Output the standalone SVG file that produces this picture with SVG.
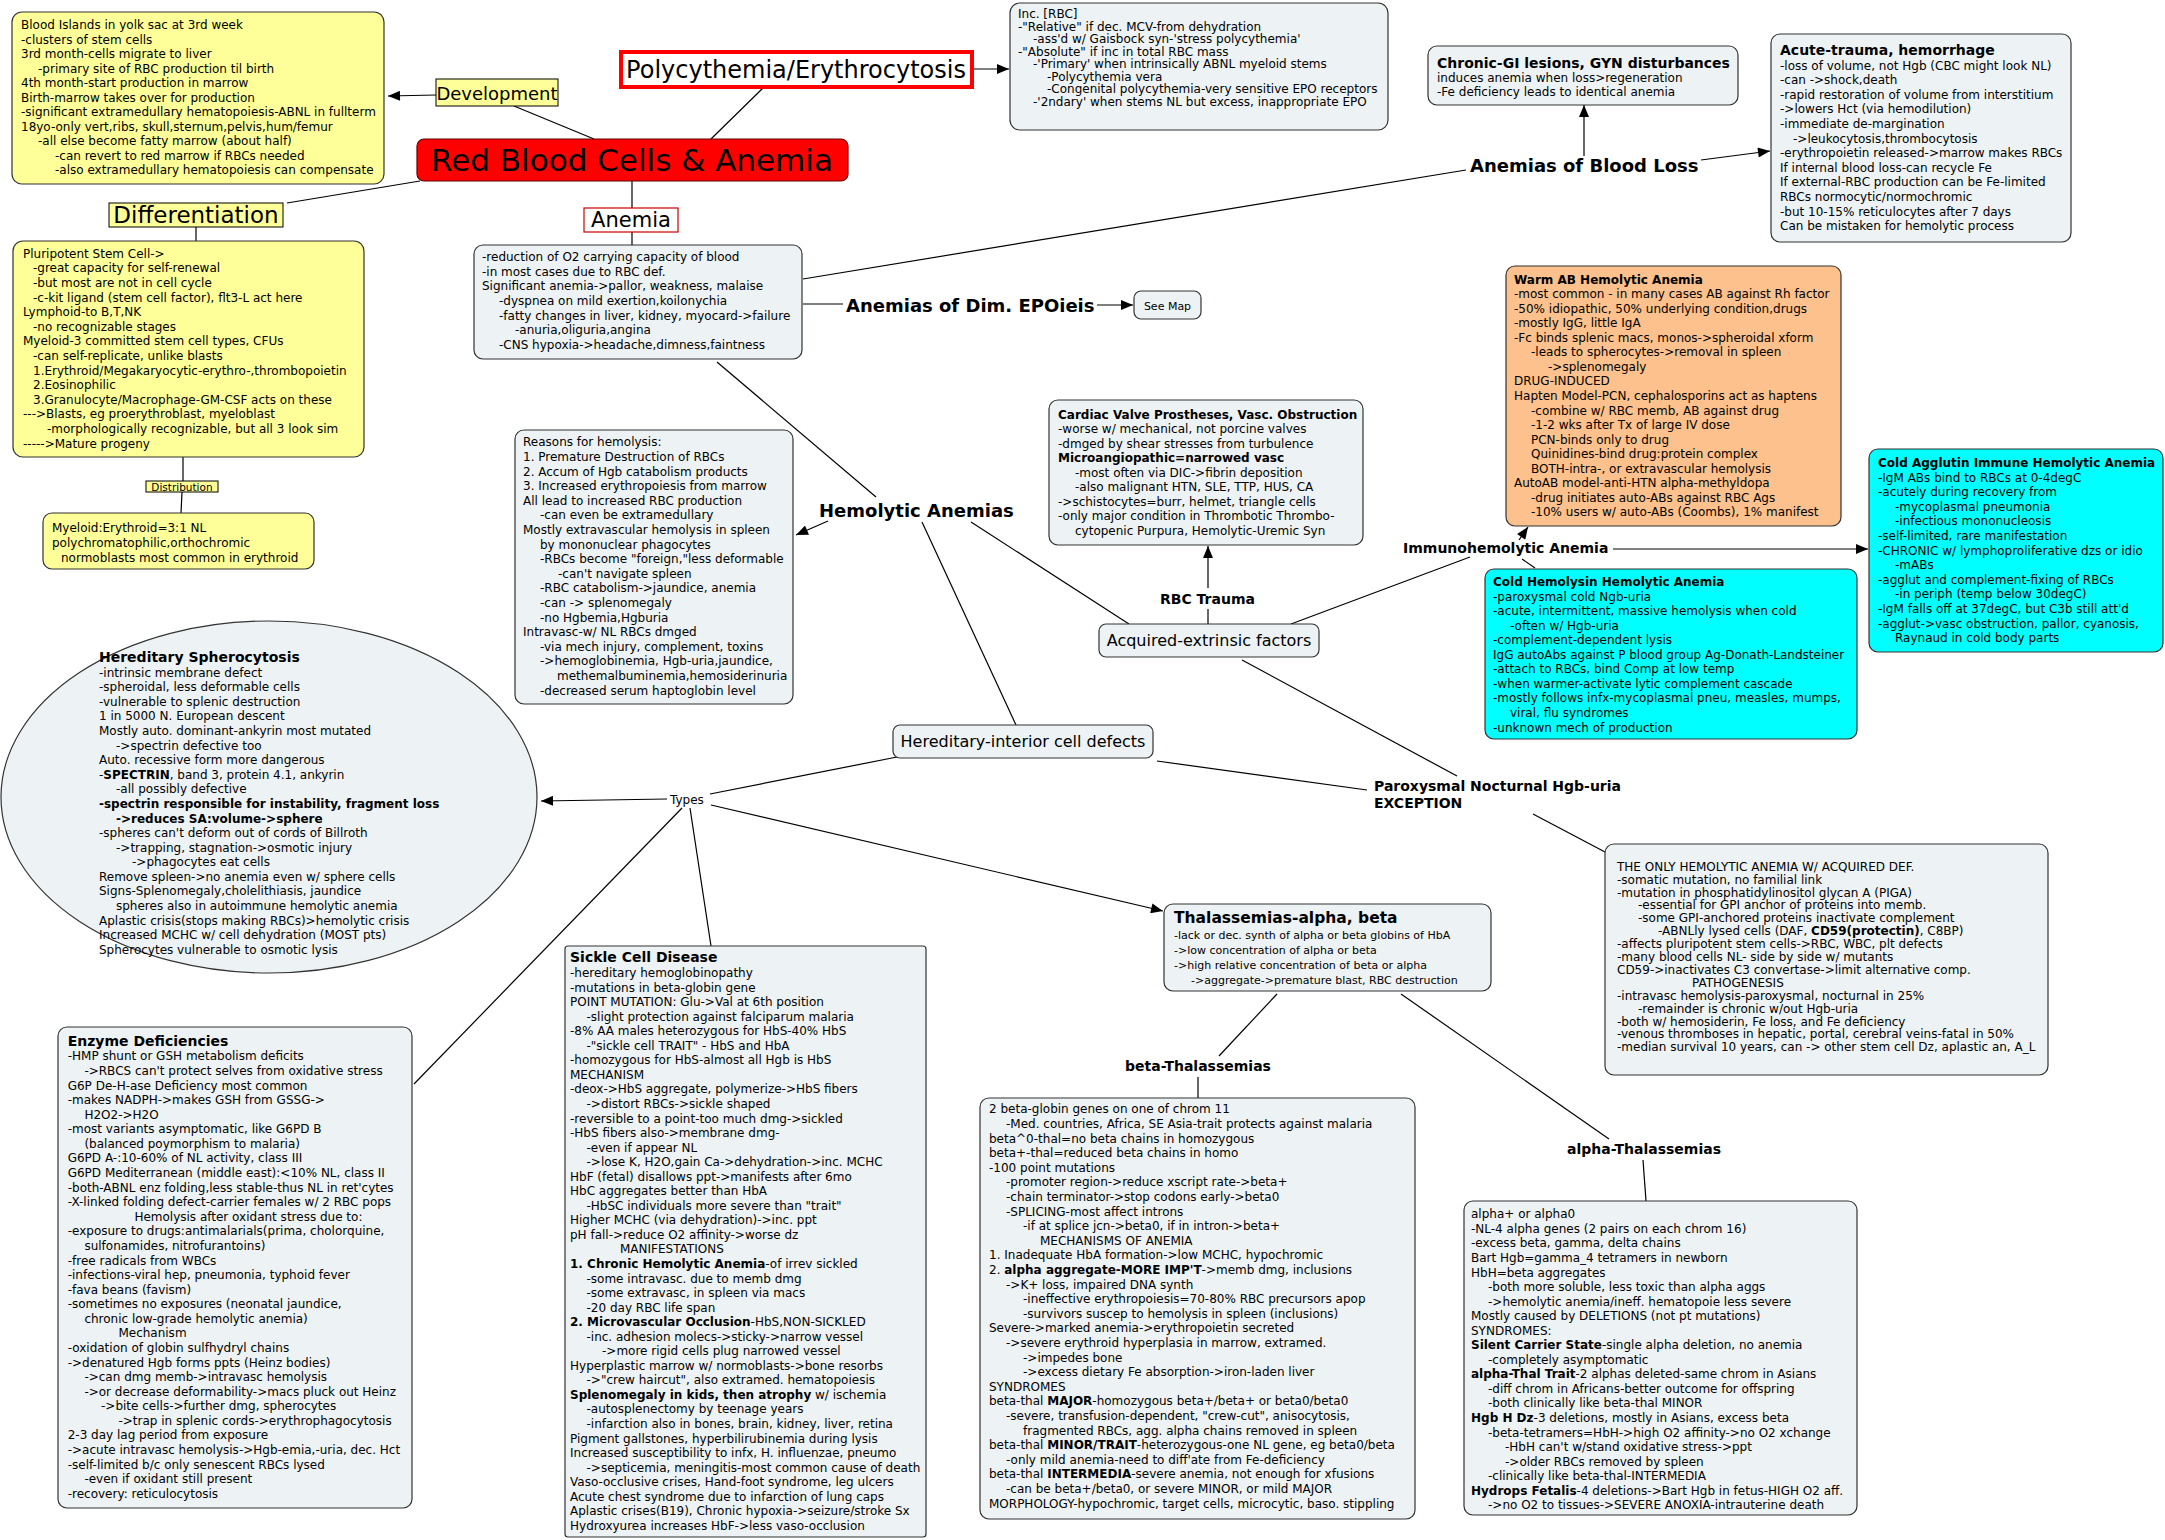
<svg xmlns="http://www.w3.org/2000/svg" width="2165" height="1540" viewBox="0 0 2165 1540">
<defs>
<marker id="ah" viewBox="0 0 12 10" refX="12" refY="5" markerWidth="13" markerHeight="10" orient="auto" markerUnits="userSpaceOnUse"><path d="M0,0 L12,5 L0,10 z" fill="#000"/></marker>
<style>
.v{font-family:"DejaVu Sans",Verdana,sans-serif;font-size:12px;fill:#000}
.t{font-family:"DejaVu Sans",Tahoma,sans-serif;font-size:12px;fill:#000}
.b{font-weight:bold}
.lab{font-family:"DejaVu Sans",Verdana,sans-serif;font-weight:bold;fill:#000}
.box{fill:#edf3f4;stroke:#333;stroke-width:1.2}
.yel{fill:#ffff99;stroke:#333;stroke-width:1.2}
.org{fill:#fcc18c;stroke:#333;stroke-width:1.2}
.cy{fill:#00ffff;stroke:#333;stroke-width:1.2}
.tag{fill:#ffff99;stroke:#000;stroke-width:1}
</style>
</defs>
<rect width="2165" height="1540" fill="#fff"/>

<g id="connectors" stroke="#000" stroke-width="1.2" fill="none">
<line x1="436" y1="95" x2="388" y2="96" marker-end="url(#ah)"/>
<line x1="514" y1="106" x2="594" y2="139"/>
<line x1="711" y1="139" x2="763" y2="88"/>
<line x1="973" y1="69" x2="1009" y2="69" marker-end="url(#ah)"/>
<line x1="287" y1="203" x2="420" y2="181"/>
<line x1="632" y1="181" x2="632" y2="208"/>
<line x1="632" y1="232" x2="632" y2="245"/>
<line x1="196" y1="227" x2="196" y2="241"/>
<line x1="183" y1="457" x2="183" y2="481"/>
<line x1="182" y1="492" x2="181" y2="513"/>
<line x1="803" y1="279" x2="1466" y2="170"/>
<line x1="1584" y1="156" x2="1584" y2="105" marker-end="url(#ah)"/>
<line x1="1701" y1="160" x2="1770" y2="151" marker-end="url(#ah)"/>
<line x1="803" y1="304" x2="843" y2="304"/>
<line x1="1097" y1="305" x2="1133" y2="305" marker-end="url(#ah)"/>
<line x1="717" y1="362" x2="876" y2="497"/>
<line x1="828" y1="521" x2="796" y2="535" marker-end="url(#ah)"/>
<line x1="922" y1="522" x2="1016" y2="725"/>
<line x1="971" y1="522" x2="1129" y2="624"/>
<line x1="1208" y1="624" x2="1208" y2="609"/>
<line x1="1208" y1="588" x2="1208" y2="546" marker-end="url(#ah)"/>
<line x1="1291" y1="624" x2="1470" y2="557"/>
<line x1="1519" y1="540" x2="1528" y2="527" marker-end="url(#ah)"/>
<line x1="1613" y1="549" x2="1868" y2="549" marker-end="url(#ah)"/>
<line x1="1522" y1="559" x2="1535" y2="568"/>
<line x1="1242" y1="660" x2="1457" y2="776"/>
<line x1="1533" y1="814" x2="1605" y2="852"/>
<line x1="1157" y1="761" x2="1367" y2="790"/>
<line x1="897" y1="757" x2="710" y2="794"/>
<line x1="667" y1="799" x2="541" y2="801" marker-end="url(#ah)"/>
<line x1="690" y1="808" x2="711" y2="946"/>
<line x1="682" y1="808" x2="414" y2="1084"/>
<line x1="711" y1="805" x2="1163" y2="911" marker-end="url(#ah)"/>
<line x1="1277" y1="994" x2="1219" y2="1056"/>
<line x1="1198" y1="1077" x2="1198" y2="1098"/>
<line x1="1401" y1="994" x2="1609" y2="1139"/>
<line x1="1643" y1="1160" x2="1646" y2="1201"/>
</g>

<g id="n-dev-box">
<rect class="yel" x="12" y="12" width="372" height="172" rx="10"/>
<text class="v" y="29">
<tspan x="21">Blood Islands in yolk sac at 3rd week</tspan>
<tspan x="21" dy="14.54">-clusters of stem cells</tspan>
<tspan x="21" dy="14.54">3rd month-cells migrate to liver</tspan>
<tspan x="38" dy="14.54">-primary site of RBC production til birth</tspan>
<tspan x="21" dy="14.54">4th month-start production in marrow</tspan>
<tspan x="21" dy="14.54">Birth-marrow takes over for production</tspan>
<tspan x="21" dy="14.54">-significant extramedullary hematopoiesis-ABNL in fullterm</tspan>
<tspan x="21" dy="14.54">18yo-only vert,ribs, skull,sternum,pelvis,hum/femur</tspan>
<tspan x="38" dy="14.54">-all else become fatty marrow (about half)</tspan>
<tspan x="55" dy="14.54">-can revert to red marrow if RBCs needed</tspan>
<tspan x="55" dy="14.54">-also extramedullary hematopoiesis can compensate</tspan>
</text>
</g>

<g id="n-development">
<rect class="tag" x="436" y="79" width="122" height="27"/>
<text class="v" x="497" y="99.5" style="font-size:18px" text-anchor="middle">Development</text>
</g>

<g id="n-polycythemia">
<rect x="621" y="52" width="351" height="35" fill="#fff" stroke="#f00" stroke-width="4"/>
<text class="v" x="796" y="78" style="font-size:24px" text-anchor="middle">Polycythemia/Erythrocytosis</text>
</g>

<g id="n-poly-box">
<rect class="box" x="1010" y="3" width="378" height="127" rx="10"/>
<text class="v" y="18.3">
<tspan x="1018">Inc. [RBC]</tspan>
<tspan x="1018" dy="12.5">-"Relative" if dec. MCV-from dehydration</tspan>
<tspan x="1033" dy="12.5">-ass'd w/ Gaisbock syn-'stress polycythemia'</tspan>
<tspan x="1018" dy="12.5">-"Absolute" if inc in total RBC mass</tspan>
<tspan x="1033" dy="12.5">-'Primary' when intrinsically ABNL myeloid stems</tspan>
<tspan x="1047" dy="12.5">-Polycythemia vera</tspan>
<tspan x="1047" dy="12.5">-Congenital polycythemia-very sensitive EPO receptors</tspan>
<tspan x="1033" dy="12.5">-'2ndary' when stems NL but excess, inappropriate EPO</tspan>
</text>
</g>

<g id="n-rbc">
<rect x="417" y="139" width="431" height="42" rx="7" fill="#ff0000" stroke="#600" stroke-width="1.2"/>
<text class="v" x="632" y="171" style="font-size:31px" text-anchor="middle">Red Blood Cells &amp; Anemia</text>
</g>

<g id="n-anemia">
<rect x="584" y="208" width="94" height="24" fill="#fff" stroke="#c00" stroke-width="1.2"/>
<text class="v" x="631" y="227" style="font-size:21px" text-anchor="middle">Anemia</text>
</g>

<g id="n-differentiation">
<rect class="tag" x="109" y="203" width="174" height="24"/>
<text class="v" x="196" y="223" style="font-size:23px" text-anchor="middle">Differentiation</text>
</g>

<g id="n-pluripotent">
<rect class="yel" x="13" y="241" width="351" height="216" rx="10"/>
<text class="v" y="257.7">
<tspan x="23">Pluripotent Stem Cell-&gt;</tspan>
<tspan x="33" dy="14.6">-great capacity for self-renewal</tspan>
<tspan x="33" dy="14.6">-but most are not in cell cycle</tspan>
<tspan x="33" dy="14.6">-c-kit ligand (stem cell factor), flt3-L act here</tspan>
<tspan x="23" dy="14.6">Lymphoid-to B,T,NK</tspan>
<tspan x="33" dy="14.6">-no recognizable stages</tspan>
<tspan x="23" dy="14.6">Myeloid-3 committed stem cell types, CFUs</tspan>
<tspan x="33" dy="14.6">-can self-replicate, unlike blasts</tspan>
<tspan x="33" dy="14.6">1.Erythroid/Megakaryocytic-erythro-,thrombopoietin</tspan>
<tspan x="33" dy="14.6">2.Eosinophilic</tspan>
<tspan x="33" dy="14.6">3.Granulocyte/Macrophage-GM-CSF acts on these</tspan>
<tspan x="23" dy="14.6">---&gt;Blasts, eg proerythroblast, myeloblast</tspan>
<tspan x="47" dy="14.6">-morphologically recognizable, but all 3 look sim</tspan>
<tspan x="23" dy="14.6">-----&gt;Mature progeny</tspan>
</text>
</g>

<g id="n-distribution">
<rect class="tag" x="146" y="481" width="72" height="11"/>
<text class="v" x="182" y="490.5" style="font-size:10.5px" text-anchor="middle">Distribution</text>
</g>

<g id="n-myeloid">
<rect class="yel" x="43" y="513" width="271" height="56" rx="9"/>
<text class="v" y="532">
<tspan x="52">Myeloid:Erythroid=3:1 NL</tspan>
<tspan x="52" dy="15">polychromatophilic,orthochromic</tspan>
<tspan x="61" dy="15">normoblasts most common in erythroid</tspan>
</text>
</g>

<g id="n-reduction">
<rect class="box" x="474" y="245" width="328" height="114" rx="9"/>
<text class="v" y="261">
<tspan x="482">-reduction of O2 carrying capacity of blood</tspan>
<tspan x="482" dy="14.65">-in most cases due to RBC def.</tspan>
<tspan x="482" dy="14.65">Significant anemia-&gt;pallor, weakness, malaise</tspan>
<tspan x="499" dy="14.65">-dyspnea on mild exertion,koilonychia</tspan>
<tspan x="499" dy="14.65">-fatty changes in liver, kidney, myocard-&gt;failure</tspan>
<tspan x="515" dy="14.65">-anuria,oliguria,angina</tspan>
<tspan x="499" dy="14.65">-CNS hypoxia-&gt;headache,dimness,faintness</tspan>
</text>
</g>

<g id="n-reasons">
<rect class="box" x="515" y="430" width="278" height="274" rx="9"/>
<text class="v" y="446.4">
<tspan x="523">Reasons for hemolysis:</tspan>
<tspan x="523" dy="14.6">1. Premature Destruction of RBCs</tspan>
<tspan x="523" dy="14.6">2. Accum of Hgb catabolism products</tspan>
<tspan x="523" dy="14.6">3. Increased erythropoiesis from marrow</tspan>
<tspan x="523" dy="14.6">All lead to increased RBC production</tspan>
<tspan x="540" dy="14.6">-can even be extramedullary</tspan>
<tspan x="523" dy="14.6">Mostly extravascular hemolysis in spleen</tspan>
<tspan x="540" dy="14.6">by mononuclear phagocytes</tspan>
<tspan x="540" dy="14.6">-RBCs become "foreign,"less deformable</tspan>
<tspan x="558" dy="14.6">-can't navigate spleen</tspan>
<tspan x="540" dy="14.6">-RBC catabolism-&gt;jaundice, anemia</tspan>
<tspan x="540" dy="14.6">-can -&gt; splenomegaly</tspan>
<tspan x="540" dy="14.6">-no Hgbemia,Hgburia</tspan>
<tspan x="523" dy="14.6">Intravasc-w/ NL RBCs dmged</tspan>
<tspan x="540" dy="14.6">-via mech injury, complement, toxins</tspan>
<tspan x="540" dy="14.6">-&gt;hemoglobinemia, Hgb-uria,jaundice,</tspan>
<tspan x="557" dy="14.6">methemalbuminemia,hemosiderinuria</tspan>
<tspan x="540" dy="14.6">-decreased serum haptoglobin level</tspan>
</text>
</g>

<g id="n-hemolytic">
<text class="lab" x="819" y="517" font-size="18">Hemolytic Anemias</text>
</g>
<g id="n-bloodloss">
<text class="lab" x="1470" y="172" font-size="18">Anemias of Blood Loss</text>
</g>
<g id="n-dimepo">
<text class="lab" x="846" y="312" font-size="18">Anemias of Dim. EPOieis</text>
</g>
<g id="n-seemap">
<rect class="box" x="1134" y="291" width="67" height="28" rx="7"/>
<text class="t" x="1167.5" y="309.5" style="font-size:11px" text-anchor="middle">See Map</text>
</g>

<g id="n-chronic">
<rect class="box" x="1428" y="46" width="310" height="59" rx="9"/>
<text class="t" y="67.5">
<tspan x="1437" class="b" font-size="14">Chronic-GI lesions, GYN disturbances</tspan>
<tspan x="1437" dy="14">induces anemia when loss&gt;regeneration</tspan>
<tspan x="1437" dy="14">-Fe deficiency leads to identical anemia</tspan>
</text>
</g>

<g id="n-acute">
<rect class="box" x="1771" y="34" width="300" height="208" rx="9"/>
<text class="t" y="55">
<tspan x="1780" class="b" font-size="14">Acute-trauma, hemorrhage</tspan>
<tspan x="1780" dy="14.6">-loss of volume, not Hgb (CBC might look NL)</tspan>
<tspan x="1780" dy="14.6">-can -&gt;shock,death</tspan>
<tspan x="1780" dy="14.6">-rapid restoration of volume from interstitium</tspan>
<tspan x="1780" dy="14.6">-&gt;lowers Hct (via hemodilution)</tspan>
<tspan x="1780" dy="14.6">-immediate de-margination</tspan>
<tspan x="1793" dy="14.6">-&gt;leukocytosis,thrombocytosis</tspan>
<tspan x="1780" dy="14.6">-erythropoietin released-&gt;marrow makes RBCs</tspan>
<tspan x="1780" dy="14.6">If internal blood loss-can recycle Fe</tspan>
<tspan x="1780" dy="14.6">If external-RBC production can be Fe-limited</tspan>
<tspan x="1780" dy="14.6">RBCs normocytic/normochromic</tspan>
<tspan x="1780" dy="14.6">-but 10-15% reticulocytes after 7 days</tspan>
<tspan x="1780" dy="14.6">Can be mistaken for hemolytic process</tspan>
</text>
</g>

<g id="n-cardiac">
<rect class="box" x="1049" y="400" width="314" height="145" rx="9"/>
<text class="t" y="418.5">
<tspan x="1058" class="b">Cardiac Valve Prostheses, Vasc. Obstruction</tspan>
<tspan x="1058" dy="14.5">-worse w/ mechanical, not porcine valves</tspan>
<tspan x="1058" dy="14.5">-dmged by shear stresses from turbulence</tspan>
<tspan x="1058" dy="14.5" class="b">Microangiopathic=narrowed vasc</tspan>
<tspan x="1075" dy="14.5">-most often via DIC-&gt;fibrin deposition</tspan>
<tspan x="1075" dy="14.5">-also malignant HTN, SLE, TTP, HUS, CA</tspan>
<tspan x="1058" dy="14.5">-&gt;schistocytes=burr, helmet, triangle cells</tspan>
<tspan x="1058" dy="14.5">-only major condition in Thrombotic Thrombo-</tspan>
<tspan x="1075" dy="14.5">cytopenic Purpura, Hemolytic-Uremic Syn</tspan>
</text>
</g>

<g id="n-rbctrauma">
<text class="lab" x="1160" y="604" font-size="14">RBC Trauma</text>
</g>

<g id="n-acquired">
<rect class="box" x="1099" y="624" width="220" height="33" rx="7"/>
<text class="v" x="1209" y="646" style="font-size:16px" text-anchor="middle">Acquired-extrinsic factors</text>
</g>

<g id="n-hereditary">
<rect class="box" x="893" y="725" width="260" height="33" rx="7"/>
<text class="v" x="1023" y="747" style="font-size:16px" text-anchor="middle">Hereditary-interior cell defects</text>
</g>

<g id="n-warm">
<rect class="org" x="1506" y="266" width="335" height="260" rx="9"/>
<text class="t" y="283.5">
<tspan x="1514" class="b">Warm AB Hemolytic Anemia</tspan>
<tspan x="1514" dy="14.56">-most common - in many cases AB against Rh factor</tspan>
<tspan x="1514" dy="14.56">-50% idiopathic, 50% underlying condition,drugs</tspan>
<tspan x="1514" dy="14.56">-mostly IgG, little IgA</tspan>
<tspan x="1514" dy="14.56">-Fc binds splenic macs, monos-&gt;spheroidal xform</tspan>
<tspan x="1531" dy="14.56">-leads to spherocytes-&gt;removal in spleen</tspan>
<tspan x="1548" dy="14.56">-&gt;splenomegaly</tspan>
<tspan x="1514" dy="14.56">DRUG-INDUCED</tspan>
<tspan x="1514" dy="14.56">Hapten Model-PCN, cephalosporins act as haptens</tspan>
<tspan x="1531" dy="14.56">-combine w/ RBC memb, AB against drug</tspan>
<tspan x="1531" dy="14.56">-1-2 wks after Tx of large IV dose</tspan>
<tspan x="1531" dy="14.56">PCN-binds only to drug</tspan>
<tspan x="1531" dy="14.56">Quinidines-bind drug:protein complex</tspan>
<tspan x="1531" dy="14.56">BOTH-intra-, or extravascular hemolysis</tspan>
<tspan x="1514" dy="14.56">AutoAB model-anti-HTN alpha-methyldopa</tspan>
<tspan x="1531" dy="14.56">-drug initiates auto-ABs against RBC Ags</tspan>
<tspan x="1531" dy="14.56">-10% users w/ auto-ABs (Coombs), 1% manifest</tspan>
</text>
</g>

<g id="n-immuno">
<text class="lab" x="1403" y="553" font-size="14">Immunohemolytic Anemia</text>
</g>

<g id="n-coldagg">
<rect class="cy" x="1869" y="449" width="294" height="203" rx="9"/>
<text class="t" y="467">
<tspan x="1878" class="b">Cold Agglutin Immune Hemolytic Anemia</tspan>
<tspan x="1878" dy="14.6">-IgM ABs bind to RBCs at 0-4degC</tspan>
<tspan x="1878" dy="14.6">-acutely during recovery from</tspan>
<tspan x="1895" dy="14.6">-mycoplasmal pneumonia</tspan>
<tspan x="1895" dy="14.6">-infectious mononucleosis</tspan>
<tspan x="1878" dy="14.6">-self-limited, rare manifestation</tspan>
<tspan x="1878" dy="14.6">-CHRONIC w/ lymphoproliferative dzs or idio</tspan>
<tspan x="1895" dy="14.6">-mABs</tspan>
<tspan x="1878" dy="14.6">-agglut and complement-fixing of RBCs</tspan>
<tspan x="1895" dy="14.6">-in periph (temp below 30degC)</tspan>
<tspan x="1878" dy="14.6">-IgM falls off at 37degC, but C3b still att'd</tspan>
<tspan x="1878" dy="14.6">-agglut-&gt;vasc obstruction, pallor, cyanosis,</tspan>
<tspan x="1895" dy="14.6">Raynaud in cold body parts</tspan>
</text>
</g>

<g id="n-coldhem">
<rect class="cy" x="1485" y="569" width="372" height="170" rx="9"/>
<text class="t" y="586">
<tspan x="1493" class="b">Cold Hemolysin Hemolytic Anemia</tspan>
<tspan x="1493" dy="14.56">-paroxysmal cold Ngb-uria</tspan>
<tspan x="1493" dy="14.56">-acute, intermittent, massive hemolysis when cold</tspan>
<tspan x="1510" dy="14.56">-often w/ Hgb-uria</tspan>
<tspan x="1493" dy="14.56">-complement-dependent lysis</tspan>
<tspan x="1493" dy="14.56">IgG autoAbs against P blood group Ag-Donath-Landsteiner</tspan>
<tspan x="1493" dy="14.56">-attach to RBCs, bind Comp at low temp</tspan>
<tspan x="1493" dy="14.56">-when warmer-activate lytic complement cascade</tspan>
<tspan x="1493" dy="14.56">-mostly follows infx-mycoplasmal pneu, measles, mumps,</tspan>
<tspan x="1510" dy="14.56">viral, flu syndromes</tspan>
<tspan x="1493" dy="14.56">-unknown mech of production</tspan>
</text>
</g>

<g id="n-pnh-label">
<text class="lab" font-size="14" y="791">
<tspan x="1374">Paroxysmal Nocturnal Hgb-uria</tspan>
<tspan x="1374" dy="16.5">EXCEPTION</tspan>
</text>
</g>

<g id="n-pnh">
<rect class="box" x="1605" y="844" width="443" height="231" rx="9"/>
<text class="v" y="870.7">
<tspan x="1617">THE ONLY HEMOLYTIC ANEMIA W/ ACQUIRED DEF.</tspan>
<tspan x="1617" dy="12.9">-somatic mutation, no familial link</tspan>
<tspan x="1617" dy="12.9">-mutation in phosphatidylinositol glycan A (PIGA)</tspan>
<tspan x="1638" dy="12.9">-essential for GPI anchor of proteins into memb.</tspan>
<tspan x="1638" dy="12.9">-some GPI-anchored proteins inactivate complement</tspan>
<tspan x="1658" dy="12.9">-ABNLly lysed cells (DAF, <tspan class="b">CD59(protectin)</tspan>, C8BP)</tspan>
<tspan x="1617" dy="12.9">-affects pluripotent stem cells-&gt;RBC, WBC, plt defects</tspan>
<tspan x="1617" dy="12.9">-many blood cells NL- side by side w/ mutants</tspan>
<tspan x="1617" dy="12.9">CD59-&gt;inactivates C3 convertase-&gt;limit alternative comp.</tspan>
<tspan x="1692" dy="12.9">PATHOGENESIS</tspan>
<tspan x="1617" dy="12.9">-intravasc hemolysis-paroxysmal, nocturnal in 25%</tspan>
<tspan x="1638" dy="12.9">-remainder is chronic w/out Hgb-uria</tspan>
<tspan x="1617" dy="12.9">-both w/ hemosiderin, Fe loss, and Fe deficiency</tspan>
<tspan x="1617" dy="12.9">-venous thromboses in hepatic, portal, cerebral veins-fatal in 50%</tspan>
<tspan x="1617" dy="12.9">-median survival 10 years, can -&gt; other stem cell Dz, aplastic an, A_L</tspan>
</text>
</g>

<g id="n-types">
<text class="v" x="670" y="804">Types</text>
</g>

<g id="n-spherocytosis">
<ellipse class="box" cx="269" cy="797" rx="268" ry="176"/>
<text class="v" y="661.8">
<tspan x="99" class="b" font-size="14">Hereditary Spherocytosis</tspan>
<tspan x="99" dy="14.9">-intrinsic membrane defect</tspan>
<tspan x="99" dy="14.58">-spheroidal, less deformable cells</tspan>
<tspan x="99" dy="14.58">-vulnerable to splenic destruction</tspan>
<tspan x="99" dy="14.58">1 in 5000 N. European descent</tspan>
<tspan x="99" dy="14.58">Mostly auto. dominant-ankyrin most mutated</tspan>
<tspan x="116" dy="14.58">-&gt;spectrin defective too</tspan>
<tspan x="99" dy="14.58">Auto. recessive form more dangerous</tspan>
<tspan x="99" dy="14.58">-<tspan class="b">SPECTRIN</tspan>, band 3, protein 4.1, ankyrin</tspan>
<tspan x="116" dy="14.58">-all possibly defective</tspan>
<tspan x="99" dy="14.58" class="b">-spectrin responsible for instability, fragment loss</tspan>
<tspan x="116" dy="14.58" class="b">-&gt;reduces SA:volume-&gt;sphere</tspan>
<tspan x="99" dy="14.58">-spheres can't deform out of cords of Billroth</tspan>
<tspan x="116" dy="14.58">-&gt;trapping, stagnation-&gt;osmotic injury</tspan>
<tspan x="132" dy="14.58">-&gt;phagocytes eat cells</tspan>
<tspan x="99" dy="14.58">Remove spleen-&gt;no anemia even w/ sphere cells</tspan>
<tspan x="99" dy="14.58">Signs-Splenomegaly,cholelithiasis, jaundice</tspan>
<tspan x="116" dy="14.58">spheres also in autoimmune hemolytic anemia</tspan>
<tspan x="99" dy="14.58">Aplastic crisis(stops making RBCs)&gt;hemolytic crisis</tspan>
<tspan x="99" dy="14.58">Increased MCHC w/ cell dehydration (MOST pts)</tspan>
<tspan x="99" dy="14.58">Spherocytes vulnerable to osmotic lysis</tspan>
</text>
</g>

<g id="n-enzyme">
<rect class="box" x="58" y="1027" width="354" height="481" rx="9"/>
<text class="v" y="1045.7">
<tspan x="67.7" class="b" font-size="14">Enzyme Deficiencies</tspan>
<tspan x="67.7" dy="14.7">-HMP shunt or GSH metabolism deficits</tspan>
<tspan x="84.4" dy="14.58">-&gt;RBCS can't protect selves from oxidative stress</tspan>
<tspan x="67.7" dy="14.58">G6P De-H-ase Deficiency most common</tspan>
<tspan x="67.7" dy="14.58">-makes NADPH-&gt;makes GSH from GSSG-&gt;</tspan>
<tspan x="84.4" dy="14.58">H2O2-&gt;H2O</tspan>
<tspan x="67.7" dy="14.58">-most variants asymptomatic, like G6PD B</tspan>
<tspan x="84.4" dy="14.58">(balanced poymorphism to malaria)</tspan>
<tspan x="67.7" dy="14.58">G6PD A-:10-60% of NL activity, class III</tspan>
<tspan x="67.7" dy="14.58">G6PD Mediterranean (middle east):&lt;10% NL, class II</tspan>
<tspan x="67.7" dy="14.58">-both-ABNL enz folding,less stable-thus NL in ret'cytes</tspan>
<tspan x="67.7" dy="14.58">-X-linked folding defect-carrier females w/ 2 RBC pops</tspan>
<tspan x="134.4" dy="14.58">Hemolysis after oxidant stress due to:</tspan>
<tspan x="67.7" dy="14.58">-exposure to drugs:antimalarials(prima, cholorquine,</tspan>
<tspan x="84.4" dy="14.58">sulfonamides, nitrofurantoins)</tspan>
<tspan x="67.7" dy="14.58">-free radicals from WBCs</tspan>
<tspan x="67.7" dy="14.58">-infections-viral hep, pneumonia, typhoid fever</tspan>
<tspan x="67.7" dy="14.58">-fava beans (favism)</tspan>
<tspan x="67.7" dy="14.58">-sometimes no exposures (neonatal jaundice,</tspan>
<tspan x="84.4" dy="14.58">chronic low-grade hemolytic anemia)</tspan>
<tspan x="118.4" dy="14.58">Mechanism</tspan>
<tspan x="67.7" dy="14.58">-oxidation of globin sulfhydryl chains</tspan>
<tspan x="67.7" dy="14.58">-&gt;denatured Hgb forms ppts (Heinz bodies)</tspan>
<tspan x="84.4" dy="14.58">-&gt;can dmg memb-&gt;intravasc hemolysis</tspan>
<tspan x="84.4" dy="14.58">-&gt;or decrease deformability-&gt;macs pluck out Heinz</tspan>
<tspan x="101" dy="14.58">-&gt;bite cells-&gt;further dmg, spherocytes</tspan>
<tspan x="118.4" dy="14.58">-&gt;trap in splenic cords-&gt;erythrophagocytosis</tspan>
<tspan x="67.7" dy="14.58">2-3 day lag period from exposure</tspan>
<tspan x="67.7" dy="14.58">-&gt;acute intravasc hemolysis-&gt;Hgb-emia,-uria, dec. Hct</tspan>
<tspan x="67.7" dy="14.58">-self-limited b/c only senescent RBCs lysed</tspan>
<tspan x="84.4" dy="14.58">-even if oxidant still present</tspan>
<tspan x="67.7" dy="14.58">-recovery: reticulocytosis</tspan>
</text>
</g>

<g id="n-sickle">
<rect class="box" x="565" y="946" width="361" height="591" rx="3"/>
<text class="v" y="962">
<tspan x="570" class="b" font-size="14">Sickle Cell Disease</tspan>
<tspan x="570" dy="15">-hereditary hemoglobinopathy</tspan>
<tspan x="570" dy="14.55">-mutations in beta-globin gene</tspan>
<tspan x="570" dy="14.55">POINT MUTATION: Glu-&gt;Val at 6th position</tspan>
<tspan x="586.5" dy="14.55">-slight protection against falciparum malaria</tspan>
<tspan x="570" dy="14.55">-8% AA males heterozygous for HbS-40% HbS</tspan>
<tspan x="586.5" dy="14.55">-"sickle cell TRAIT" - HbS and HbA</tspan>
<tspan x="570" dy="14.55">-homozygous for HbS-almost all Hgb is HbS</tspan>
<tspan x="570" dy="14.55">MECHANISM</tspan>
<tspan x="570" dy="14.55">-deox-&gt;HbS aggregate, polymerize-&gt;HbS fibers</tspan>
<tspan x="586.5" dy="14.55">-&gt;distort RBCs-&gt;sickle shaped</tspan>
<tspan x="570" dy="14.55">-reversible to a point-too much dmg-&gt;sickled</tspan>
<tspan x="570" dy="14.55">-HbS fibers also-&gt;membrane dmg-</tspan>
<tspan x="586.5" dy="14.55">-even if appear NL</tspan>
<tspan x="586.5" dy="14.55">-&gt;lose K, H2O,gain Ca-&gt;dehydration-&gt;inc. MCHC</tspan>
<tspan x="570" dy="14.55">HbF (fetal) disallows ppt-&gt;manifests after 6mo</tspan>
<tspan x="570" dy="14.55">HbC aggregates better than HbA</tspan>
<tspan x="586.5" dy="14.55">-HbSC individuals more severe than "trait"</tspan>
<tspan x="570" dy="14.55">Higher MCHC (via dehydration)-&gt;inc. ppt</tspan>
<tspan x="570" dy="14.55">pH fall-&gt;reduce O2 affinity-&gt;worse dz</tspan>
<tspan x="620" dy="14.55">MANIFESTATIONS</tspan>
<tspan x="570" dy="14.55"><tspan class="b">1. Chronic Hemolytic Anemia</tspan>-of irrev sickled</tspan>
<tspan x="586.5" dy="14.55">-some intravasc. due to memb dmg</tspan>
<tspan x="586.5" dy="14.55">-some extravasc, in spleen via macs</tspan>
<tspan x="586.5" dy="14.55">-20 day RBC life span</tspan>
<tspan x="570" dy="14.55"><tspan class="b">2. Microvascular Occlusion</tspan>-HbS,NON-SICKLED</tspan>
<tspan x="586.5" dy="14.55">-inc. adhesion molecs-&gt;sticky-&gt;narrow vessel</tspan>
<tspan x="602" dy="14.55">-&gt;more rigid cells plug narrowed vessel</tspan>
<tspan x="570" dy="14.55">Hyperplastic marrow w/ normoblasts-&gt;bone resorbs</tspan>
<tspan x="586.5" dy="14.55">-&gt;"crew haircut", also extramed. hematopoiesis</tspan>
<tspan x="570" dy="14.55"><tspan class="b">Splenomegaly in kids, then atrophy</tspan> w/ ischemia</tspan>
<tspan x="586.5" dy="14.55">-autosplenectomy by teenage years</tspan>
<tspan x="586.5" dy="14.55">-infarction also in bones, brain, kidney, liver, retina</tspan>
<tspan x="570" dy="14.55">Pigment gallstones, hyperbilirubinemia during lysis</tspan>
<tspan x="570" dy="14.55">Increased susceptibility to infx, H. influenzae, pneumo</tspan>
<tspan x="586.5" dy="14.55">-&gt;septicemia, meningitis-most common cause of death</tspan>
<tspan x="570" dy="14.55">Vaso-occlusive crises, Hand-foot syndrome, leg ulcers</tspan>
<tspan x="570" dy="14.55">Acute chest syndrome due to infarction of lung caps</tspan>
<tspan x="570" dy="14.55">Aplastic crises(B19), Chronic hypoxia-&gt;seizure/stroke Sx</tspan>
<tspan x="570" dy="14.55">Hydroxyurea increases HbF-&gt;less vaso-occlusion</tspan>
</text>
</g>

<g id="n-thal">
<rect class="box" x="1164" y="904" width="327" height="87" rx="9"/>
<text class="t" y="923" style="font-size:11px">
<tspan x="1174" class="b" font-size="15.5">Thalassemias-alpha, beta</tspan>
<tspan x="1174" dy="16.3">-lack or dec. synth of alpha or beta globins of HbA</tspan>
<tspan x="1174" dy="15">-&gt;low concentration of alpha or beta</tspan>
<tspan x="1174" dy="15">-&gt;high relative concentration of beta or alpha</tspan>
<tspan x="1191" dy="15">-&gt;aggregate-&gt;premature blast, RBC destruction</tspan>
</text>
</g>

<g id="n-betalabel">
<text class="lab" x="1125" y="1071" font-size="14">beta-Thalassemias</text>
</g>
<g id="n-alphalabel">
<text class="lab" x="1567" y="1154" font-size="14">alpha-Thalassemias</text>
</g>

<g id="n-beta">
<rect class="box" x="980" y="1098" width="435" height="421" rx="9"/>
<text class="t" y="1113.3">
<tspan x="989">2 beta-globin genes on one of chrom 11</tspan>
<tspan x="1006" dy="14.6">-Med. countries, Africa, SE Asia-trait protects against malaria</tspan>
<tspan x="989" dy="14.6">beta^0-thal=no beta chains in homozygous</tspan>
<tspan x="989" dy="14.6">beta+-thal=reduced beta chains in homo</tspan>
<tspan x="989" dy="14.6">-100 point mutations</tspan>
<tspan x="1006" dy="14.6">-promoter region-&gt;reduce xscript rate-&gt;beta+</tspan>
<tspan x="1006" dy="14.6">-chain terminator-&gt;stop codons early-&gt;beta0</tspan>
<tspan x="1006" dy="14.6">-SPLICING-most affect introns</tspan>
<tspan x="1023" dy="14.6">-if at splice jcn-&gt;beta0, if in intron-&gt;beta+</tspan>
<tspan x="1040" dy="14.6">MECHANISMS OF ANEMIA</tspan>
<tspan x="989" dy="14.6">1.  Inadequate HbA formation-&gt;low MCHC, hypochromic</tspan>
<tspan x="989" dy="14.6">2.  <tspan class="b">alpha aggregate-MORE IMP'T</tspan>-&gt;memb dmg, inclusions</tspan>
<tspan x="1006" dy="14.6">-&gt;K+ loss, impaired DNA synth</tspan>
<tspan x="1023" dy="14.6">-ineffective erythropoiesis=70-80% RBC precursors apop</tspan>
<tspan x="1023" dy="14.6">-survivors suscep to hemolysis in spleen (inclusions)</tspan>
<tspan x="989" dy="14.6">Severe-&gt;marked anemia-&gt;erythropoietin secreted</tspan>
<tspan x="1006" dy="14.6">-&gt;severe erythroid hyperplasia in marrow, extramed.</tspan>
<tspan x="1023" dy="14.6">-&gt;impedes bone</tspan>
<tspan x="1023" dy="14.6">-&gt;excess dietary Fe absorption-&gt;iron-laden liver</tspan>
<tspan x="989" dy="14.6">SYNDROMES</tspan>
<tspan x="989" dy="14.6">beta-thal <tspan class="b">MAJOR</tspan>-homozygous beta+/beta+ or beta0/beta0</tspan>
<tspan x="1006" dy="14.6">-severe, transfusion-dependent, "crew-cut", anisocytosis,</tspan>
<tspan x="1023" dy="14.6">fragmented RBCs, agg. alpha chains removed in spleen</tspan>
<tspan x="989" dy="14.6">beta-thal <tspan class="b">MINOR/TRAIT</tspan>-heterozygous-one NL gene, eg beta0/beta</tspan>
<tspan x="1006" dy="14.6">-only mild anemia-need to diff'ate from Fe-deficiency</tspan>
<tspan x="989" dy="14.6">beta-thal <tspan class="b">INTERMEDIA</tspan>-severe anemia, not enough for xfusions</tspan>
<tspan x="1006" dy="14.6">-can be beta+/beta0, or severe MINOR, or mild MAJOR</tspan>
<tspan x="989" dy="14.6">MORPHOLOGY-hypochromic, target cells, microcytic, baso. stippling</tspan>
</text>
</g>

<g id="n-alpha">
<rect class="box" x="1464" y="1201" width="393" height="314" rx="9"/>
<text class="t" y="1218.3">
<tspan x="1471">alpha+ or alpha0</tspan>
<tspan x="1471" dy="14.55">-NL-4 alpha genes (2 pairs on each chrom 16)</tspan>
<tspan x="1471" dy="14.55">-excess beta, gamma, delta chains</tspan>
<tspan x="1471" dy="14.55">Bart Hgb=gamma_4 tetramers in newborn</tspan>
<tspan x="1471" dy="14.55">HbH=beta aggregates</tspan>
<tspan x="1488" dy="14.55">-both more soluble, less toxic than alpha aggs</tspan>
<tspan x="1488" dy="14.55">-&gt;hemolytic anemia/ineff. hematopoie less severe</tspan>
<tspan x="1471" dy="14.55">Mostly caused by DELETIONS (not pt mutations)</tspan>
<tspan x="1471" dy="14.55">SYNDROMES:</tspan>
<tspan x="1471" dy="14.55"><tspan class="b">Silent Carrier State</tspan>-single alpha deletion, no anemia</tspan>
<tspan x="1488" dy="14.55">-completely asymptomatic</tspan>
<tspan x="1471" dy="14.55"><tspan class="b">alpha-Thal Trait</tspan>-2 alphas deleted-same chrom in Asians</tspan>
<tspan x="1488" dy="14.55">-diff chrom in Africans-better outcome for offspring</tspan>
<tspan x="1488" dy="14.55">-both clinically like beta-thal MINOR</tspan>
<tspan x="1471" dy="14.55"><tspan class="b">Hgb H Dz</tspan>-3 deletions, mostly in Asians, excess beta</tspan>
<tspan x="1488" dy="14.55">-beta-tetramers=HbH-&gt;high O2 affinity-&gt;no O2 xchange</tspan>
<tspan x="1505" dy="14.55">-HbH can't w/stand oxidative stress-&gt;ppt</tspan>
<tspan x="1505" dy="14.55">-&gt;older RBCs removed by spleen</tspan>
<tspan x="1488" dy="14.55">-clinically like beta-thal-INTERMEDIA</tspan>
<tspan x="1471" dy="14.55"><tspan class="b">Hydrops Fetalis</tspan>-4 deletions-&gt;Bart Hgb in fetus-HIGH O2 aff.</tspan>
<tspan x="1488" dy="14.55">-&gt;no O2 to tissues-&gt;SEVERE ANOXIA-intrauterine death</tspan>
</text>
</g>
</svg>
